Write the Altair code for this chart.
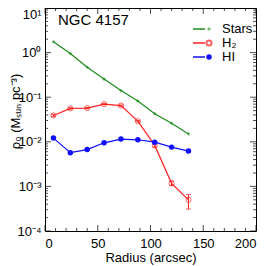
import altair as alt
import pandas as pd

# ---- data ----
radius = [8, 24, 40, 56, 72, 88, 104, 120, 136]
stars = [1.75, 0.95, 0.47, 0.255, 0.141, 0.082, 0.0426, 0.026, 0.015]
h2 = [0.039, 0.056, 0.057, 0.070, 0.065, 0.029, 0.0083, 0.00117, 0.0005]
h2_lo = [0.037, 0.054, 0.055, 0.068, 0.063, 0.028, 0.0076, 0.00104, 0.00031]
h2_hi = [0.041, 0.058, 0.059, 0.072, 0.067, 0.030, 0.0090, 0.00131, 0.00066]
hi = [0.0121, 0.0057, 0.0067, 0.0095, 0.0115, 0.0111, 0.0098, 0.0076, 0.0062]

series_names = ["Stars", "H₂", "HI"]
series_colors = ["#1c8c1c", "#ff2020", "#1010ff"]

x_major = [0, 50, 100, 150, 200]
x_minor = [10, 20, 30, 40, 60, 70, 80, 90, 110, 120, 130, 140, 160, 170, 180, 190]
y_major = [1e-4, 1e-3, 1e-2, 1e-1, 1, 10]
y_minor = [m * 10.0 ** e for e in range(-4, 1) for m in range(2, 10)]

W, H = 211, 223
FONT = "Liberation Sans Narrow, Liberation Sans, Arial, sans-serif"

df_stars = pd.DataFrame({"r": radius, "v": stars})
df_h2 = pd.DataFrame({"r": radius, "v": h2, "lo": h2_lo, "hi": h2_hi})
df_hi = pd.DataFrame({"r": radius, "v": hi})

xs = alt.Scale(domain=[0, 200], nice=False, zero=False)
ys = alt.Scale(type="log", domain=[1e-4, 10], nice=False)

label_expr = (
    "datum.value >= 5 ? '10¹' : datum.value >= 0.5 ? '10⁰' : "
    "datum.value >= 0.05 ? '10⁻¹' : datum.value >= 0.005 ? '10⁻²' : "
    "datum.value >= 0.0005 ? '10⁻³' : '10⁻⁴'"
)

X = alt.X("r:Q", scale=xs,
          axis=alt.Axis(values=x_major, title="Radius (arcsec)", ticks=False,
                        domain=False, grid=False, labelPadding=6,
                        titleX=W / 2, titleY=26, titleBaseline="middle"))
Y = alt.Y("v:Q", scale=ys,
          axis=alt.Axis(values=y_major, labelExpr=label_expr,
                        labelBaseline={"condition": {"test": "datum.value >= 5", "value": "top"},
                                       "value": "middle"},
                        title="ρ₀ (Mₛᵤₙ pc⁻³)", ticks=False, domain=False,
                        grid=False, labelPadding=4, titleFontSize=13,
                        titleX=-30, titleY=103, titleBaseline="middle"))
Xn = alt.X("r:Q", scale=xs)
Yn = alt.Y("v:Q", scale=ys)

line_stars = alt.Chart(df_stars).mark_line(color=series_colors[0], strokeWidth=1.2).encode(x=X, y=Y)
line_h2 = alt.Chart(df_h2).mark_line(color=series_colors[1], strokeWidth=1.2).encode(x=Xn, y=Yn)
line_hi = alt.Chart(df_hi).mark_line(color=series_colors[2], strokeWidth=1.2).encode(x=Xn, y=Yn)

pt_stars = alt.Chart(df_stars).mark_point(shape="cross", filled=True, size=10,
                                          color=series_colors[0]).encode(x=Xn, y=Yn)
pt_h2 = alt.Chart(df_h2).mark_point(shape="circle", filled=False, size=26, strokeWidth=1,
                                    color=series_colors[1]).encode(x=Xn, y=Yn)
pt_hi = alt.Chart(df_hi).mark_circle(size=30, opacity=1, color=series_colors[2]).encode(x=Xn, y=Yn)

err_bar = alt.Chart(df_h2).mark_rule(color=series_colors[1], strokeWidth=1).encode(
    x=Xn, y=alt.Y("lo:Q", scale=ys), y2="hi:Q")
err_cap_lo = alt.Chart(df_h2).mark_tick(orient="horizontal", size=5, thickness=1,
                                        color=series_colors[1]).encode(x=Xn, y=alt.Y("lo:Q", scale=ys))
err_cap_hi = alt.Chart(df_h2).mark_tick(orient="horizontal", size=5, thickness=1,
                                        color=series_colors[1]).encode(x=Xn, y=alt.Y("hi:Q", scale=ys))

# inside ticks on all four sides
dxM = pd.DataFrame({"r": x_major})
dxm = pd.DataFrame({"r": x_minor})
dyM = pd.DataFrame({"v": y_major})
dym = pd.DataFrame({"v": y_minor})

def xt(d, size, yp):
    return alt.Chart(d).mark_tick(orient="vertical", size=size, thickness=1, color="black").encode(
        x=Xn, y=alt.value(yp))

def yt(d, size, xp):
    return alt.Chart(d).mark_tick(orient="horizontal", size=size, thickness=1, color="black").encode(
        y=Yn, x=alt.value(xp))

ticks = [
    xt(dxM, 6, H - 3), xt(dxM, 6, 3), xt(dxm, 3, H - 1.5), xt(dxm, 3, 1.5),
    yt(dyM, 6, 3), yt(dyM, 6, W - 3), yt(dym, 3, 1.5), yt(dym, 3, W - 1.5),
]

title_txt = alt.Chart(pd.DataFrame({"t": ["NGC 4157"]})).mark_text(
    align="left", baseline="middle", fontSize=15, font=FONT, color="black").encode(
    x=alt.value(13), y=alt.value(12), text="t:N")

main = alt.layer(
    *ticks, line_stars, line_h2, line_hi, err_bar, err_cap_lo, err_cap_hi,
    pt_stars, pt_h2, pt_hi, title_txt)

# legend
leg = pd.DataFrame({"label": series_names, "row": [0, 1, 2]})
LY = alt.Y("row:O", scale=alt.Scale(type="point", domain=[0, 1, 2], range=[21, 49], padding=0), axis=None)
leg_lines = [
    alt.Chart(leg[leg.row == i]).mark_rule(color=series_colors[i], strokeWidth=1.5).encode(
        x=alt.value(148), x2=alt.value(160), y=LY)
    for i in range(3)
]
leg_pts = [
    alt.Chart(leg[leg.row == 0]).mark_point(shape="cross", filled=True, size=10,
                                            color=series_colors[0]).encode(x=alt.value(164), y=LY),
    alt.Chart(leg[leg.row == 1]).mark_point(shape="circle", filled=False, size=26,
                                            color=series_colors[1]).encode(x=alt.value(164), y=LY),
    alt.Chart(leg[leg.row == 2]).mark_circle(size=30, opacity=1,
                                             color=series_colors[2]).encode(x=alt.value(164), y=LY),
]
leg_txt = alt.Chart(leg).mark_text(align="left", baseline="middle", fontSize=13,
                                   font=FONT, color="black").encode(
    x=alt.value(177), y=LY, text="label:N")
legend = alt.layer(*leg_lines, *leg_pts, leg_txt)

chart = alt.layer(main, legend).resolve_scale(y="independent").properties(
    width=W, height=H,
    padding={"left": 37, "top": 0, "right": 2, "bottom": 36},
    autosize=alt.AutoSizeParams(type="none"),
).configure_view(stroke="black", strokeWidth=1).configure_axis(
    labelFont=FONT, titleFont=FONT, labelFontSize=13, titleFontSize=13,
    labelColor="black", titleColor="black", titleFontWeight="normal",
)

chart.save("out.html", embed_options={"renderer": "svg", "actions": False})
